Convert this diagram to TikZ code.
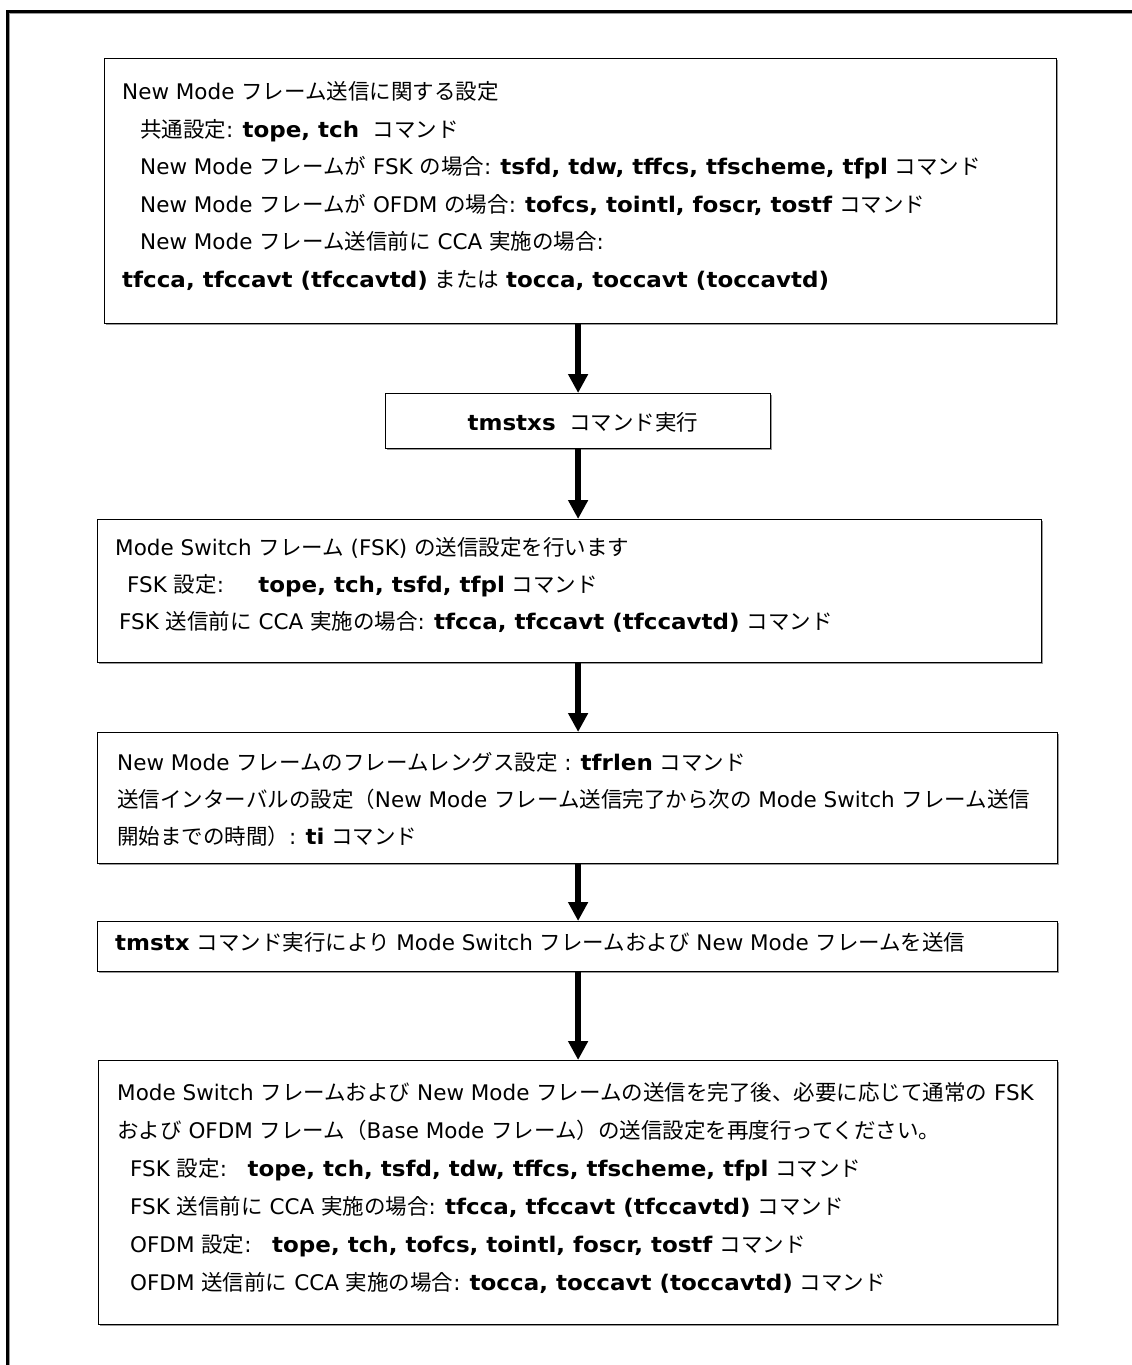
\documentclass[tikz,border=0pt]{standalone}
\usepackage{fontspec}
\setmainfont{DejaVu Sans}[BoldFeatures={FakeStretch=1.07}]
\newfontfamily\jfont{Noto Sans CJK JP}
\newcommand\J[1]{{\jfont #1}}
\usetikzlibrary{arrows.meta,shadows}
\tikzset{
  box/.style={draw, line width=1.2pt, fill=white, inner sep=0pt, anchor=north west,
    drop shadow={shadow xshift=1.3pt, shadow yshift=-1.3pt, fill=black!40, opacity=1}},
  txt/.style={anchor=base west, inner sep=0pt, font=\fontsize{21.5}{26}\selectfont},
  flow/.style={line width=6pt, -{Triangle[width=19pt,length=19pt]}},
  frame/.style={line width=3pt}
}
\begin{document}
\begin{tikzpicture}[x=1pt,y=-1pt]
\useasboundingbox (0,0) rectangle (1132,1365);
\clip (0,0) rectangle (1132,1365);
\fill[white] (0,0) rectangle (1132,1365);
% outer frame (only left and top edges fall inside the picture)
\draw[frame, black!40] (8.5,12.5) rectangle (1250,1450);
\draw[frame] (7,11) rectangle (1250,1450);

% box 1
\node[box, minimum width=952pt, minimum height=265pt] (b1) at (104,58) {};
\node[txt] (t11) at (122,99.5) {New Mode \J{フレーム送信に関する設定}};
\node[txt] (t12) at (140,137) {\J{共通設定}: \textbf{tope, tch}\ \ \J{コマンド}};
\node[txt] (t13) at (140,174.5) {New Mode \J{フレームが} FSK \J{の場合}: \textbf{tsfd, tdw, tffcs, tfscheme, tfpl} \J{コマンド}};
\node[txt] (t14) at (140,212) {New Mode \J{フレームが} OFDM \J{の場合}: \textbf{tofcs, tointl, foscr, tostf} \J{コマンド}};
\node[txt] (t15) at (140,249.5) {New Mode \J{フレーム送信前に} CCA \J{実施の場合}:};
\node[txt] (t16) at (122,287) {\textbf{tfcca, tfccavt (tfccavtd)}\ \J{または} \textbf{tocca, toccavt (toccavtd)}};

% box 2
\node[box, minimum width=385pt, minimum height=55pt] (b2) at (385,393) {};
\node[txt, anchor=base] (t21) at (583,430) {\textbf{tmstxs}\ \ \J{コマンド実行}};

% box 3
\node[box, minimum width=944pt, minimum height=143pt] (b3) at (97,519) {};
\node[txt] (t31) at (115,555.5) {Mode Switch \J{フレーム}\ (FSK)\ \J{の送信設定を行います}};
\node[txt] (t32) at (127,592.5) {FSK \J{設定}:\hspace{1.6em}\textbf{tope, tch, tsfd, tfpl} \J{コマンド}};
\node[txt] (t33) at (119,629.5) {FSK \J{送信前に} CCA \J{実施の場合}: \textbf{tfcca, tfccavt (tfccavtd)} \J{コマンド}};

% box 4
\node[box, minimum width=960pt, minimum height=131pt] (b4) at (97,732) {};
\node[txt] (t41) at (117,770.5) {New Mode \J{フレームのフレームレングス設定} : \textbf{tfrlen} \J{コマンド}};
\node[txt] (t42) at (117,807.5) {\J{送信インターバルの設定（}New Mode \J{フレーム送信完了から次の} Mode Switch \J{フレーム送信}};
\node[txt] (t43) at (117,844.5) {\J{開始までの時間）}: \textbf{ti} \J{コマンド}};

% box 5
\node[box, minimum width=960pt, minimum height=50pt] (b5) at (97,921) {};
\node[txt] (t51) at (115,950) {\textbf{tmstx}\ \J{コマンド実行により} Mode Switch \J{フレームおよび} New Mode \J{フレームを送信}};

% box 6
\node[box, minimum width=959pt, minimum height=264pt] (b6) at (98,1060) {};
\node[txt] (t61) at (117,1100.5) {Mode Switch \J{フレームおよび} New Mode \J{フレームの送信を完了後、必要に応じて通常の} FSK};
\node[txt] (t62) at (117,1138.5) {\J{および} OFDM \J{フレーム（}Base Mode \J{フレーム）の送信設定を再度行ってください。}};
\node[txt] (t63) at (130,1176.5) {FSK \J{設定}:\ \ \ \textbf{tope, tch, tsfd, tdw, tffcs, tfscheme, tfpl} \J{コマンド}};
\node[txt] (t64) at (130,1214.5) {FSK \J{送信前に} CCA \J{実施の場合}: \textbf{tfcca, tfccavt (tfccavtd)} \J{コマンド}};
\node[txt] (t65) at (130,1252.5) {OFDM \J{設定}:\ \ \ \textbf{tope, tch, tofcs, tointl, foscr, tostf} \J{コマンド}};
\node[txt] (t66) at (130,1290.5) {OFDM \J{送信前に} CCA \J{実施の場合}: \textbf{tocca, toccavt (toccavtd)} \J{コマンド}};

% connectors
\draw[flow] (b1.south -| b2.north) -- (b2.north);
\draw[flow] (b2.south) -- (b2.south |- b3.north);
\draw[flow] (b3.south -| b2.south) -- (b2.south |- b4.north);
\draw[flow] (b4.south -| b2.south) -- (b2.south |- b5.north);
\draw[flow] (b5.south -| b2.south) -- (b2.south |- b6.north);
\end{tikzpicture}
\end{document}
